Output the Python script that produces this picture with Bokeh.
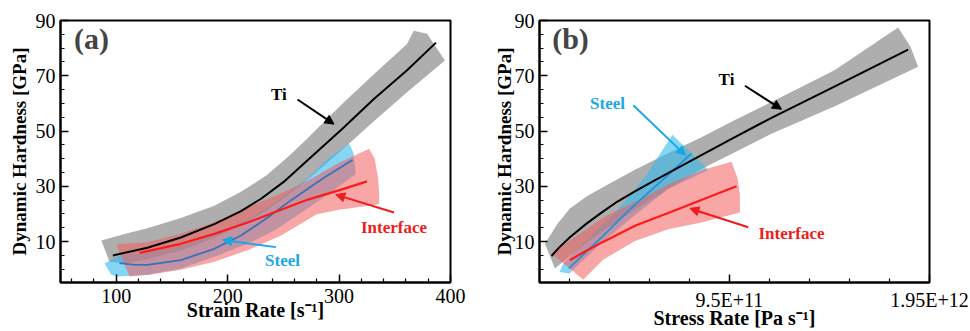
from bokeh.plotting import figure
from bokeh.layouts import row
from bokeh.models import FixedTicker, Label, Arrow, NormalHead, Range1d
from bokeh.embed import file_html
from bokeh.resources import INLINE

SERIF = "Liberation Serif"

# ---------------- shared hardness axis [GPa] ----------------
hard_ticks = [10, 30, 50, 70, 90]
hard_minor = [0, 5, 15, 20, 25, 35, 40, 45, 55, 60, 65, 75, 80, 85]

# ---------------- (a) hardness vs strain rate [1/s] ----------------
strain_ticks = [100, 200, 300, 400]
strain_minor = [60, 80, 120, 140, 160, 180, 220, 240, 260, 280, 320, 340, 360, 380]

ti_a_x = [97, 128, 158, 188, 212, 230, 250, 272, 302, 331, 361, 387]
ti_a_y = [5.0, 7.8, 11.5, 16.3, 21.0, 25.5, 31.5, 39.5, 50.5, 61.5, 72.0, 82.0]
ti_a_hi_x = [86.6, 110, 128, 158, 188, 212, 235, 255, 272, 302, 331, 361, 367, 379, 391, 395]
ti_a_hi_y = [10.4, 13.0, 14.8, 18.5, 23.0, 28.0, 34.0, 41.0, 47.5, 59.5, 70.5, 81.5, 86.3, 85.2, 78.0, 75.5]
ti_a_lo_x = [361, 331, 302, 272, 250, 230, 212, 188, 158, 128, 108, 94]
ti_a_lo_y = [64.0, 53.5, 43.0, 32.5, 25.5, 20.0, 16.0, 11.3, 6.8, 3.6, 2.2, 2.7]

steel_a_x = [103, 115, 128, 158, 188, 212, 236, 257, 286, 312]
steel_a_y = [2.2, 1.7, 1.6, 3.3, 7.4, 12.2, 18.7, 25.0, 33.0, 39.5]
steel_a_hi_x = [89.5, 103, 128, 158, 188, 218, 242, 272, 290, 309, 313]
steel_a_hi_y = [2.1, 5.0, 6.0, 8.5, 12.5, 18.0, 24.0, 33.0, 40.0, 45.5, 42.0]
steel_a_lo_x = [315, 290, 268, 242, 218, 188, 158, 128, 101.5, 95.5]
steel_a_lo_y = [34.5, 27.0, 21.0, 14.0, 9.2, 4.5, 0.3, -2.0, -2.6, -2.0]

iface_a_x = [121, 158, 188, 218, 248, 272, 302, 325]
iface_a_y = [5.9, 9.2, 12.8, 16.9, 21.5, 25.2, 28.8, 31.8]
iface_a_hi_x = [100, 128, 158, 188, 218, 248, 272, 300, 327, 332, 335, 336]
iface_a_hi_y = [9.0, 9.8, 12.8, 17.0, 22.3, 27.5, 32.0, 38.5, 43.6, 40.0, 33.0, 27.0]
iface_a_lo_x = [336, 300, 280, 248, 218, 188, 158, 130, 112]
iface_a_lo_y = [23.5, 21.5, 19.9, 12.2, 6.9, 2.7, -0.2, -2.0, -2.6]

# ---------------- (b) hardness vs stress rate [Pa/s], rates given in units of 1e11 ----------------
stress_ticks = [9.5e11, 1.95e12]
stress_minor = [1.5e11, 3.5e11, 5.5e11, 7.5e11, 1.15e12, 1.35e12, 1.55e12, 1.75e12]
stress_labels = {9.5e11: "9.5E+11", 1.95e12: "1.95E+12"}

ti_b_x = [0.6, 1.0, 1.52, 2.35, 3.1, 3.9, 4.77, 5.6, 6.43, 7.77, 9.77, 11.6, 14.77, 18.43]
ti_b_y = [4.8, 8.0, 11.6, 16.5, 20.5, 24.5, 28.2, 31.5, 34.8, 40.0, 47.8, 54.8, 66.2, 79.5]
ti_b_hi_x = [0.27, 0.9, 1.52, 2.35, 3.1, 4.77, 6.43, 8.1, 9.77, 11.6, 14.77, 17.93, 18.55]
ti_b_hi_y = [9.2, 16.5, 22.0, 26.3, 29.4, 36.0, 42.0, 47.8, 54.0, 60.5, 72.1, 87.5, 80.5]
ti_b_lo_x = [18.93, 14.77, 11.6, 9.77, 8.1, 6.43, 4.77, 3.1, 2.35, 1.52, 0.77]
ti_b_lo_y = [73.3, 59.0, 49.0, 42.3, 36.3, 29.0, 21.5, 13.5, 9.5, 4.8, 0.3]

steel_b_x = [1.47, 3.1, 4.77, 6.2, 7.6]
steel_b_y = [0.3, 11.5, 23.4, 32.6, 41.9]
steel_b_hi_x = [1.0, 1.19, 2.35, 4.02, 5.35, 6.19, 6.65]
steel_b_hi_y = [-1.0, 2.1, 10.4, 22.3, 34.1, 43.6, 48.7]
steel_b_lo_x = [8.44, 6.43, 4.77, 3.1, 2.0, 1.5]
steel_b_lo_y = [35.9, 29.0, 19.5, 9.5, 2.0, -1.5]

iface_b_x = [1.52, 2.3, 3.15, 4.8, 6.5, 8.15, 9.85]
iface_b_y = [3.3, 6.5, 9.8, 15.8, 20.5, 25.2, 30.0]
iface_b_hi_x = [0.6, 1.52, 3.19, 4.85, 6.52, 8.19, 9.6, 9.9, 10.02]
iface_b_hi_y = [5.7, 10.4, 18.7, 24.7, 31.0, 36.0, 38.9, 33.0, 27.0]
iface_b_lo_x = [10.02, 8.1, 6.43, 4.77, 3.19, 2.35, 2.19]
iface_b_lo_y = [20.5, 16.9, 14.5, 10.2, 3.5, -2.6, -3.8]

E11 = 1e11

GRAY_FILL, BLUE_FILL, RED_FILL = "#8c8c8c", "#33bbee", "#f25c5c"
STEEL_TXT, IFACE_TXT = "#1ba6e6", "#ee1c1c"


def e11(vals):
    return [v * E11 for v in vals]


def make_fig(x_range, left, right, xticks, xminor, xtitle, ystandoff):
    p = figure(width=485, height=331, x_range=x_range, y_range=Range1d(-4.8, 90),
               output_backend="svg", toolbar_location=None,
               min_border_left=left, min_border_right=right,
               min_border_top=20, min_border_bottom=45)
    p.xgrid.visible = False
    p.ygrid.visible = False
    p.outline_line_color = "black"
    p.outline_line_width = 2
    p.xaxis.ticker = FixedTicker(ticks=xticks, minor_ticks=xminor)
    p.yaxis.ticker = FixedTicker(ticks=hard_ticks, minor_ticks=hard_minor)
    for ax in (p.xaxis[0], p.yaxis[0]):
        ax.axis_line_width = 2
        ax.axis_line_color = "black"
        ax.major_tick_in = 8
        ax.major_tick_out = 0
        ax.minor_tick_in = 4
        ax.minor_tick_out = 0
        ax.major_tick_line_width = 1.5
        ax.minor_tick_line_width = 1.2
        ax.major_label_text_font = SERIF
        ax.major_label_text_font_size = "20px"
        ax.major_label_text_color = "black"
        ax.axis_label_text_font = SERIF
        ax.axis_label_text_font_style = "bold"
        ax.axis_label_text_color = "black"
    p.xaxis.major_label_standoff = 6
    p.yaxis.major_label_standoff = 5
    p.xaxis.axis_label = xtitle
    p.xaxis.axis_label_text_font_size = "20px"
    p.xaxis.axis_label_standoff = -7
    p.yaxis.axis_label = "Dynamic Hardness [GPa]"
    p.yaxis.axis_label_text_font_size = "19px"
    p.yaxis.axis_label_standoff = ystandoff
    return p


def band(p, hx, hy, lx, ly, color, alpha):
    p.patch(list(hx) + list(lx), list(hy) + list(ly), fill_color=color,
            fill_alpha=alpha, line_color=None)


def panel_tag(p, text):
    p.add_layout(Label(x=31, y=244, x_units="screen", y_units="screen", text=text,
                       text_font=SERIF, text_font_style="bold", text_font_size="30px",
                       text_align="center", text_baseline="middle"))


def tag(p, x, y, text, color, x0, y0, x1, y1):
    p.add_layout(Label(x=x, y=y, text=text, text_font=SERIF, text_font_style="bold",
                       text_font_size="17px", text_color=color,
                       text_align="center", text_baseline="middle"))
    p.add_layout(Arrow(x_start=x0, y_start=y0, x_end=x1, y_end=y1,
                       line_color=color, line_width=2,
                       end=NormalHead(size=9, fill_color=color, line_color=color)))


# ---------------- panel (a) ----------------
pa = make_fig(Range1d(50, 400), 60, 35, strain_ticks, strain_minor,
              "Strain Rate [s\u207b\u00b9]", 3)
band(pa, ti_a_hi_x, ti_a_hi_y, ti_a_lo_x, ti_a_lo_y, GRAY_FILL, 0.7)
band(pa, steel_a_hi_x, steel_a_hi_y, steel_a_lo_x, steel_a_lo_y, BLUE_FILL, 0.6)
band(pa, iface_a_hi_x, iface_a_hi_y, iface_a_lo_x, iface_a_lo_y, RED_FILL, 0.55)
pa.line(steel_a_x, steel_a_y, line_color="#3b70b8", line_width=1.8)
pa.line(ti_a_x, ti_a_y, line_color="black", line_width=2)
pa.line(iface_a_x, iface_a_y, line_color="#ff1a1a", line_width=2.2)
tag(pa, 246, 63.2, "Ti", "black", 262.7, 61.4, 295.5, 52.5)
tag(pa, 249.3, 3.3, "Steel", STEEL_TXT, 243.3, 8.0, 195.5, 10.6)
tag(pa, 349.3, 15.2, "Interface", IFACE_TXT, 349.3, 20.5, 297, 27)
panel_tag(pa, "(a)")

# ---------------- panel (b) ----------------
pb = make_fig(Range1d(0, 1.95e12), 54, 41, stress_ticks, stress_minor,
              "Stress Rate [Pa s\u207b\u00b9]", -3)
pb.xaxis.major_label_overrides = stress_labels
band(pb, e11(ti_b_hi_x), ti_b_hi_y, e11(ti_b_lo_x), ti_b_lo_y, GRAY_FILL, 0.7)
band(pb, e11(steel_b_hi_x), steel_b_hi_y, e11(steel_b_lo_x), steel_b_lo_y, BLUE_FILL, 0.6)
band(pb, e11(iface_b_hi_x), iface_b_hi_y, e11(iface_b_lo_x), iface_b_lo_y, RED_FILL, 0.55)
pb.line(e11(steel_b_x), steel_b_y, line_color="#2290dc", line_width=1.8)
pb.line(e11(ti_b_x), ti_b_y, line_color="black", line_width=2)
pb.line(e11(iface_b_x), iface_b_y, line_color="#ff1a1a", line_width=2.2)
tag(pb, 9.35 * E11, 68.5, "Ti", "black", 10.27 * E11, 66.4, 12.1 * E11, 57.9)
tag(pb, 3.4 * E11, 60.0, "Steel", STEEL_TXT, 4.69 * E11, 59.3, 7.3 * E11, 41.2)
tag(pb, 12.6 * E11, 13.0, "Interface", IFACE_TXT, 10.44 * E11, 15.2, 7.52 * E11, 22.0)
panel_tag(pb, "(b)")

layout = row(pa, pb)
open("out.html", "w").write(file_html(layout, INLINE))
